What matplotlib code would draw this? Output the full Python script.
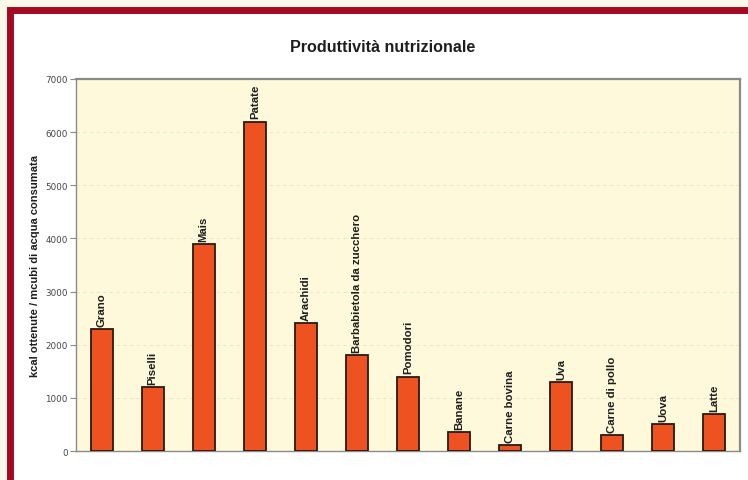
import numpy as np
import matplotlib.pyplot as plt
from matplotlib.patches import Rectangle

plt.rcParams["font.family"] = ["Liberation Sans", "DejaVu Sans"]

categories = ["Grano", "Piselli", "Mais", "Patate", "Arachidi",
              "Barbabietola da zucchero", "Pomodori", "Banane", "Carne bovina",
              "Uva", "Carne di pollo", "Uova", "Latte"]
values = [2300, 1200, 3900, 6200, 2400, 1800, 1400, 350, 110, 1300, 300, 500, 700]
yticks = [0, 1000, 2000, 3000, 4000, 5000, 6000, 7000]

fig = plt.figure(figsize=(7.48, 4.81), dpi=100, facecolor="#fdf9e8")

# red frame around the white panel
fig.patches.append(Rectangle((9.5 / 748, -0.05), 1.0, 1 - 10.5 / 481 + 0.05,
                             transform=fig.transFigure, facecolor="white",
                             edgecolor="#a50a22", linewidth=5, zorder=-5))

ax = fig.add_axes([76 / 748, 1 - 452 / 481, 664 / 748, 372 / 481])
ax.set_zorder(2)
ax.set_facecolor("#fdf9da")

x = np.arange(len(categories))
bars = ax.bar(x, values, width=0.43, color="#ee5220", edgecolor="#2b1a10",
              linewidth=1.3, zorder=3)

for xi, v, name in zip(x, values, categories):
    ax.text(xi, v + 60, name, rotation=90, ha="center", va="bottom",
            fontsize=8.2, fontweight="bold", color="#1e1e1e", zorder=4)

ax.set_xlim(-0.5, len(categories) - 0.5)
ax.set_ylim(0, 7000)
ax.set_yticks(yticks)
ax.set_yticklabels([str(t) for t in yticks], fontsize=6.3, color="#444444",
                   family="DejaVu Sans")
ax.set_xticks([])
ax.tick_params(axis="y", length=4, pad=2, color="#888888")
ax.yaxis.grid(True, color="#e6e2c8", linestyle=(0, (4, 4)), linewidth=0.6, zorder=1)

for s in ax.spines.values():
    s.set_color("#8a8a8a")
    s.set_linewidth(1.0)
ax.spines["top"].set_linewidth(1.6)
ax.spines["right"].set_linewidth(1.6)

ax.set_ylabel("kcal ottenute / mcubi di acqua consumata", fontsize=8,
              fontweight="bold", color="#1e1e1e", labelpad=4,
              family=["Liberation Sans Narrow", "Liberation Sans"])
fig.text(383 / 748, 1 - 47 / 481, "Produttività nutrizionale", ha="center",
         va="center", fontsize=11.6, fontweight="bold", color="#1e1e1e")

fig.savefig("out.png", dpi=100, facecolor=fig.get_facecolor())
